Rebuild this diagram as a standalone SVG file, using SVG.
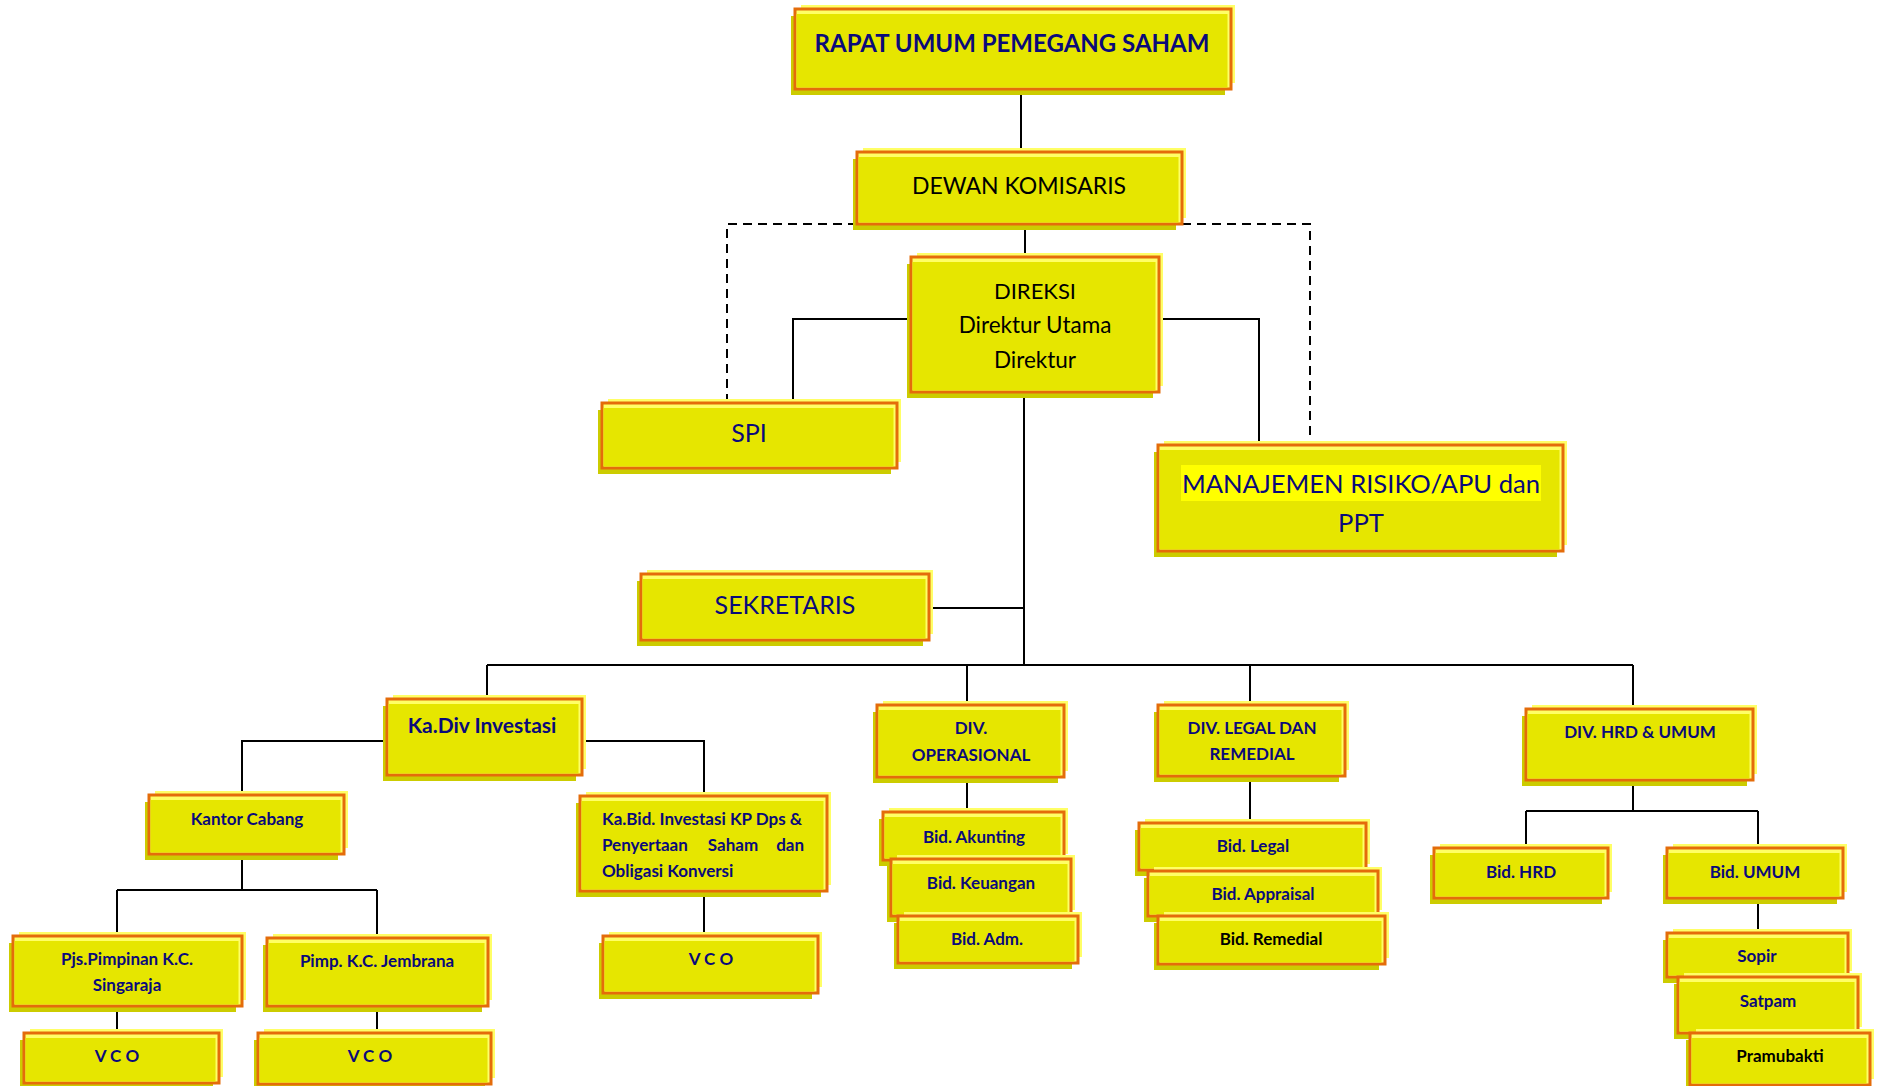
<svg xmlns="http://www.w3.org/2000/svg" width="1881" height="1086" viewBox="0 0 1881 1086">
<style>
.lt{fill:#ffff66}
.dk{fill:#cccc00}
.mn{fill:#ffff66;stroke:#e46c0a;stroke-width:3}
.in{fill:#e6e600}
text{font-family:Lato,"Noto Sans","DejaVu Sans",sans-serif;text-anchor:middle}
.nv{fill:#0a0a7a}
.bk{fill:#000}
.b{font-weight:bold}
.s{font-size:17px;font-weight:bold}
.ln{fill:none;stroke:#000;stroke-width:2}
.ds{fill:none;stroke:#000;stroke-width:2;stroke-dasharray:9 6}
</style>
<g id="connectors">
<path class="ln" d="M1021 89V152M1025 224V257M1024 392V665M911 319H793V403M1159 319H1259V445M929 608H1024M487 665H1633M487 665V699M967 665V705M1250 665V705M1633 665V709M387 741H242V795M582 741H704V796M704 891V936M242 854V890M117 890H377M117 890V936M377 890V938M117 1006V1033M377 1006V1033M967 777V812M1250 776V823M1633 780V811M1526 811H1758M1526 811V848M1758 811V848M1758 898V933"/>
<path class="ds" d="M857 224H727V403M1182 224H1310V445"/>
</g>
<g id="rups"><rect class="lt" x="801" y="5" width="434" height="78"/><rect class="dk" x="791" y="16" width="434" height="79"/><rect class="mn" x="795" y="9" width="436" height="80"/><rect class="in" x="796.5" y="14" width="431" height="73.5"/>
<text class="nv b" x="1012" y="52" font-size="24">RAPAT UMUM PEMEGANG SAHAM</text></g>
<g id="dewan-komisaris"><rect class="lt" x="863" y="148" width="323" height="70"/><rect class="dk" x="853" y="159" width="323" height="71"/><rect class="mn" x="857" y="152" width="325" height="72"/><rect class="in" x="858.5" y="157" width="320" height="65.5"/>
<text class="bk" x="1019" y="194" font-size="23">DEWAN KOMISARIS</text></g>
<g id="direksi"><rect class="lt" x="917" y="253" width="246" height="133"/><rect class="dk" x="907" y="264" width="246" height="134"/><rect class="mn" x="911" y="257" width="248" height="135"/><rect class="in" x="912.5" y="262" width="243" height="128.5"/>
<text class="bk" x="1035" y="299" font-size="22">DIREKSI</text><text class="bk" x="1035" y="333" font-size="22.5">Direktur Utama</text><text class="bk" x="1035" y="368" font-size="22.5">Direktur</text></g>
<g id="spi"><rect class="lt" x="608" y="399" width="293" height="63"/><rect class="dk" x="598" y="410" width="293" height="64"/><rect class="mn" x="602" y="403" width="295" height="65"/><rect class="in" x="603.5" y="408" width="290" height="58.5"/>
<text class="nv" x="749" y="442" font-size="25">SPI</text></g>
<g id="manajemen-risiko"><rect class="lt" x="1164" y="441" width="403" height="104"/><rect class="dk" x="1154" y="452" width="403" height="105"/><rect class="mn" x="1158" y="445" width="405" height="106"/><rect class="in" x="1159.5" y="450" width="400" height="99.5"/>
<rect x="1181" y="465" width="360" height="36" fill="#ffff00"/>
<text class="nv" x="1361" y="493" font-size="25.6">MANAJEMEN RISIKO/APU dan</text><text class="nv" x="1361" y="532" font-size="25.6">PPT</text></g>
<g id="sekretaris"><rect class="lt" x="647" y="570" width="286" height="64"/><rect class="dk" x="637" y="581" width="286" height="65"/><rect class="mn" x="641" y="574" width="288" height="66"/><rect class="in" x="642.5" y="579" width="283" height="59.5"/>
<text class="nv" x="785" y="614" font-size="25">SEKRETARIS</text></g>
<g id="ka-div-investasi"><rect class="lt" x="393" y="695" width="193" height="74"/><rect class="dk" x="383" y="706" width="193" height="75"/><rect class="mn" x="387" y="699" width="195" height="76"/><rect class="in" x="388.5" y="704" width="190" height="69.5"/>
<text class="nv b" x="482" y="733" font-size="21">Ka.Div Investasi</text></g>
<g id="ka-bid-investasi"><rect class="lt" x="586" y="792" width="245" height="93"/><rect class="dk" x="576" y="803" width="245" height="94"/><rect class="mn" x="580" y="796" width="247" height="95"/><rect class="in" x="581.5" y="801" width="242" height="88.5"/>
<text class="nv s" x="602" y="825" style="text-anchor:start">Ka.Bid. Investasi KP Dps &amp;</text><text class="nv s" x="602" y="851" style="text-anchor:start">Penyertaan</text><text class="nv s" x="733" y="851">Saham</text><text class="nv s" x="804" y="851" style="text-anchor:end">dan</text><text class="nv s" x="602" y="877" style="text-anchor:start">Obligasi Konversi</text></g>
<g id="vco-kp"><rect class="lt" x="609" y="932" width="213" height="55"/><rect class="dk" x="599" y="943" width="213" height="56"/><rect class="mn" x="603" y="936" width="215" height="57"/><rect class="in" x="604.5" y="941" width="210" height="50.5"/>
<text class="nv s" x="711" y="965">V C O</text></g>
<g id="kantor-cabang"><rect class="lt" x="155" y="791" width="193" height="57"/><rect class="dk" x="145" y="802" width="193" height="58"/><rect class="mn" x="149" y="795" width="195" height="59"/><rect class="in" x="150.5" y="800" width="190" height="52.5"/>
<text class="nv s" x="247" y="825">Kantor Cabang</text></g>
<g id="pjs-singaraja"><rect class="lt" x="19" y="932" width="227" height="68"/><rect class="dk" x="9" y="943" width="227" height="69"/><rect class="mn" x="13" y="936" width="229" height="70"/><rect class="in" x="14.5" y="941" width="224" height="63.5"/>
<text class="nv s" x="127" y="965">Pjs.Pimpinan K.C.</text><text class="nv s" x="127" y="991">Singaraja</text></g>
<g id="pimp-jembrana"><rect class="lt" x="273" y="934" width="219" height="66"/><rect class="dk" x="263" y="945" width="219" height="67"/><rect class="mn" x="267" y="938" width="221" height="68"/><rect class="in" x="268.5" y="943" width="216" height="61.5"/>
<text class="nv s" x="377" y="967">Pimp. K.C. Jembrana</text></g>
<g id="vco-singaraja"><rect class="lt" x="30" y="1029" width="193" height="48"/><rect class="dk" x="20" y="1040" width="193" height="49"/><rect class="mn" x="24" y="1033" width="195" height="50"/><rect class="in" x="25.5" y="1038" width="190" height="43.5"/>
<text class="nv s" x="117" y="1062">V C O</text></g>
<g id="vco-jembrana"><rect class="lt" x="264" y="1029" width="231" height="49"/><rect class="dk" x="254" y="1040" width="231" height="50"/><rect class="mn" x="258" y="1033" width="233" height="51"/><rect class="in" x="259.5" y="1038" width="228" height="44.5"/>
<text class="nv s" x="370" y="1062">V C O</text></g>
<g id="div-operasional"><rect class="lt" x="883" y="701" width="185" height="70"/><rect class="dk" x="873" y="712" width="185" height="71"/><rect class="mn" x="877" y="705" width="187" height="72"/><rect class="in" x="878.5" y="710" width="182" height="65.5"/>
<text class="nv s" x="971" y="734">DIV.</text><text class="nv s" x="971" y="761">OPERASIONAL</text></g>
<g id="bid-akunting"><rect class="lt" x="889" y="808" width="179" height="46"/><rect class="dk" x="879" y="819" width="179" height="47"/><rect class="mn" x="883" y="812" width="181" height="48"/><rect class="in" x="884.5" y="817" width="176" height="41.5"/>
<text class="nv s" x="974" y="843">Bid. Akunting</text></g>
<g id="bid-keuangan"><rect class="lt" x="897" y="855" width="178" height="55"/><rect class="dk" x="887" y="866" width="178" height="56"/><rect class="mn" x="891" y="859" width="180" height="57"/><rect class="in" x="892.5" y="864" width="175" height="50.5"/>
<text class="nv s" x="981" y="889">Bid. Keuangan</text></g>
<g id="bid-adm"><rect class="lt" x="904" y="912" width="178" height="45"/><rect class="dk" x="894" y="923" width="178" height="46"/><rect class="mn" x="898" y="916" width="180" height="47"/><rect class="in" x="899.5" y="921" width="175" height="40.5"/>
<text class="nv s" x="987" y="945">Bid. Adm.</text></g>
<g id="div-legal-remedial"><rect class="lt" x="1164" y="701" width="185" height="69"/><rect class="dk" x="1154" y="712" width="185" height="70"/><rect class="mn" x="1158" y="705" width="187" height="71"/><rect class="in" x="1159.5" y="710" width="182" height="64.5"/>
<text class="nv s" x="1252" y="734">DIV. LEGAL DAN</text><text class="nv s" x="1252" y="760">REMEDIAL</text></g>
<g id="bid-legal"><rect class="lt" x="1145" y="819" width="225" height="45"/><rect class="dk" x="1135" y="830" width="225" height="46"/><rect class="mn" x="1139" y="823" width="227" height="47"/><rect class="in" x="1140.5" y="828" width="222" height="40.5"/>
<text class="nv s" x="1253" y="852">Bid. Legal</text></g>
<g id="bid-appraisal"><rect class="lt" x="1154" y="867" width="228" height="43"/><rect class="dk" x="1144" y="878" width="228" height="44"/><rect class="mn" x="1148" y="871" width="230" height="45"/><rect class="in" x="1149.5" y="876" width="225" height="38.5"/>
<text class="nv s" x="1263" y="900">Bid. Appraisal</text></g>
<g id="bid-remedial"><rect class="lt" x="1164" y="912" width="225" height="46"/><rect class="dk" x="1154" y="923" width="225" height="47"/><rect class="mn" x="1158" y="916" width="227" height="48"/><rect class="in" x="1159.5" y="921" width="222" height="41.5"/>
<text class="bk s" x="1271" y="945">Bid. Remedial</text></g>
<g id="div-hrd-umum"><rect class="lt" x="1532" y="705" width="225" height="69"/><rect class="dk" x="1522" y="716" width="225" height="70"/><rect class="mn" x="1526" y="709" width="227" height="71"/><rect class="in" x="1527.5" y="714" width="222" height="64.5"/>
<text class="nv s" x="1640" y="738">DIV. HRD &amp; UMUM</text></g>
<g id="bid-hrd"><rect class="lt" x="1440" y="844" width="172" height="48"/><rect class="dk" x="1430" y="855" width="172" height="49"/><rect class="mn" x="1434" y="848" width="174" height="50"/><rect class="in" x="1435.5" y="853" width="169" height="43.5"/>
<text class="nv s" x="1521" y="878">Bid. HRD</text></g>
<g id="bid-umum"><rect class="lt" x="1673" y="844" width="174" height="48"/><rect class="dk" x="1663" y="855" width="174" height="49"/><rect class="mn" x="1667" y="848" width="176" height="50"/><rect class="in" x="1668.5" y="853" width="171" height="43.5"/>
<text class="nv s" x="1755" y="878">Bid. UMUM</text></g>
<g id="sopir"><rect class="lt" x="1673" y="929" width="179" height="42"/><rect class="dk" x="1663" y="940" width="179" height="43"/><rect class="mn" x="1667" y="933" width="181" height="44"/><rect class="in" x="1668.5" y="938" width="176" height="37.5"/>
<text class="nv s" x="1757" y="962">Sopir</text></g>
<g id="satpam"><rect class="lt" x="1684" y="973" width="178" height="54"/><rect class="dk" x="1674" y="984" width="178" height="55"/><rect class="mn" x="1678" y="977" width="180" height="56"/><rect class="in" x="1679.5" y="982" width="175" height="49.5"/>
<text class="nv s" x="1768" y="1007">Satpam</text></g>
<g id="pramubakti"><rect class="lt" x="1696" y="1029" width="178" height="50"/><rect class="dk" x="1686" y="1040" width="178" height="51"/><rect class="mn" x="1690" y="1033" width="180" height="52"/><rect class="in" x="1691.5" y="1038" width="175" height="45.5"/>
<text class="bk s" x="1780" y="1062">Pramubakti</text></g>
</svg>
